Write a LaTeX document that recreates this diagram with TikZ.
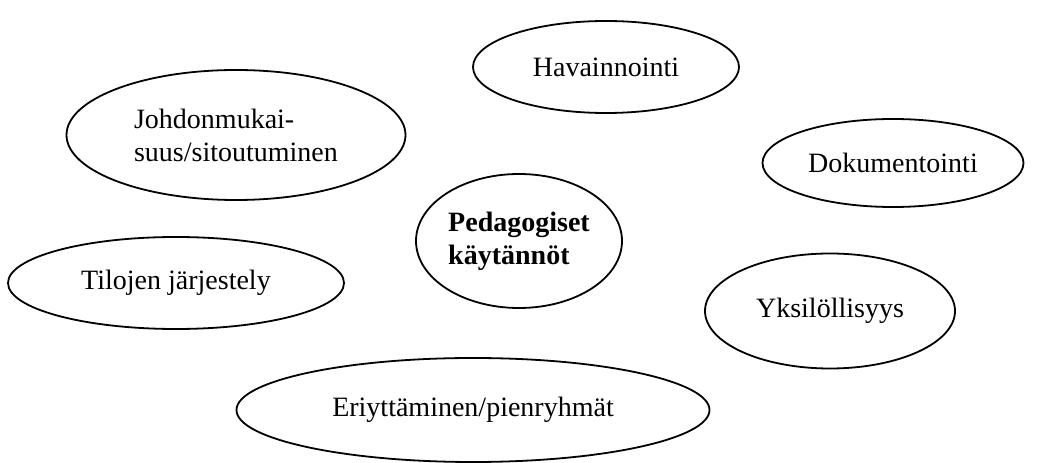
\documentclass[tikz,border=0pt]{standalone}
\usepackage{fontspec}
\setmainfont{Liberation Serif}
\usetikzlibrary{shapes.geometric}

\begin{document}
\begin{tikzpicture}[x=1pt, y=1pt,
  topic/.style={ellipse, draw=black, line width=1.8pt,
    font=\fontsize{28pt}{33pt}\selectfont,
    align=center, inner sep=0pt},
  core/.style={topic, align=left, font=\fontsize{28pt}{33pt}\selectfont\bfseries}
]
\useasboundingbox (0,0) rectangle (1044,463);
% Centre node
\node[core, minimum width=206, minimum height=134]
  at (519,222) (ped) {Pedagogiset\\k\"ayt\"ann\"ot};
% Surrounding practices
\node[topic, minimum width=266, minimum height=92]
  at (606,396) (hav) {Havainnointi};
\node[topic, align=left, minimum width=339, minimum height=130]
  at (236,328) (joh) {Johdonmukai-\\suus/sitoutuminen};
\node[topic, minimum width=261, minimum height=88]
  at (893,300) (dok) {Dokumentointi};
\node[topic, minimum width=336, minimum height=92]
  at (176,180) (til) {Tilojen j\"arjestely};
\node[topic, minimum width=250, minimum height=115]
  at (830,152) (yks) {Yksil\"ollisyys};
\node[topic, minimum width=473, minimum height=104]
  at (473,53) (eri) {Eriytt\"aminen/pienryhm\"at};
\end{tikzpicture}
\end{document}
